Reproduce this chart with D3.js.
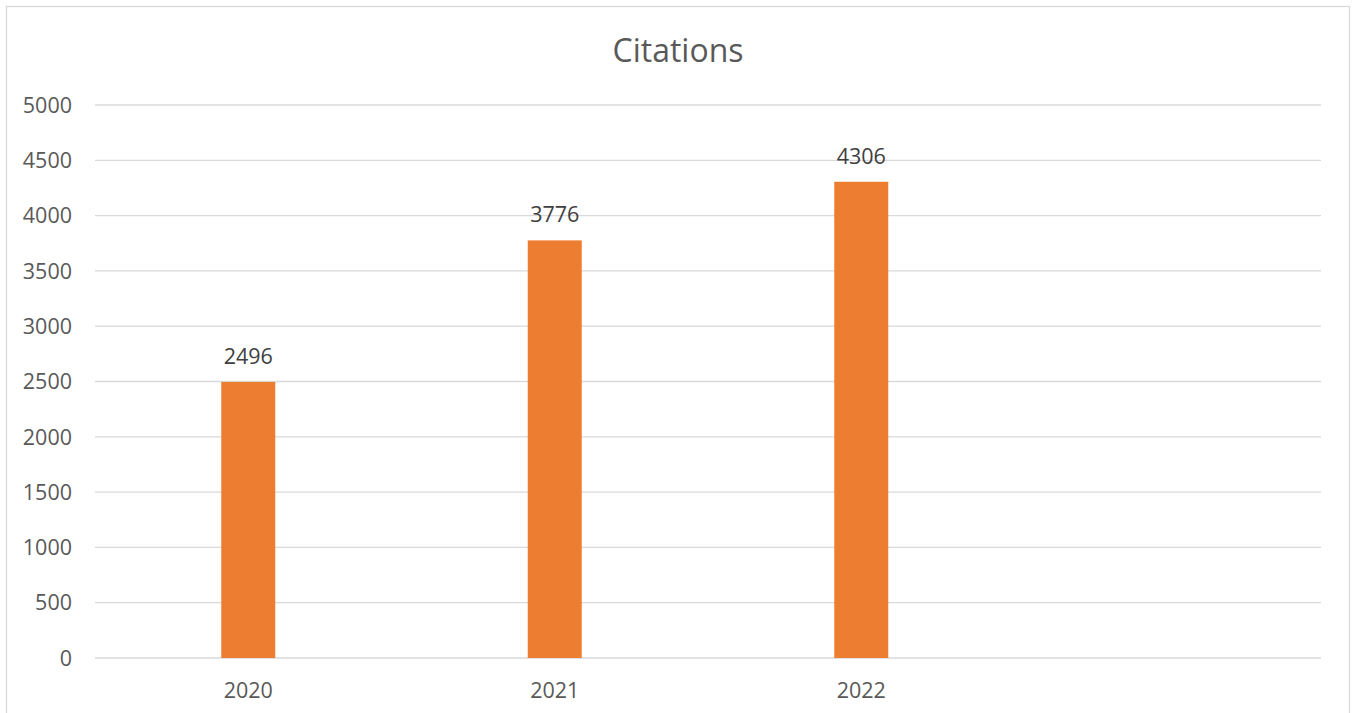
<!DOCTYPE html>
<html>
<head>
<meta charset="utf-8">
<script src="https://d3js.org/d3.v7.min.js"></script>
<style>
  body { margin: 0; background: #fff; }
  text { font-family: "Open Sans", Calibri, sans-serif; }
</style>
</head>
<body>
<svg id="chart" width="1353" height="713"></svg>
<script>
  // data
  const categories = ["2020", "2021", "2022", ""]
  const citations = [2496, 3776, 4306, null]
  const yTicks = [0, 500, 1000, 1500, 2000, 2500, 3000, 3500, 4000, 4500, 5000]

  const svg = d3.select("#chart")
  const plotLeft = 95, plotRight = 1321, plotTop = 105, plotBottom = 658

  // chart frame
  svg.append("rect")
    .attr("x", 6.5).attr("y", 6.5)
    .attr("width", 1343).attr("height", 720)
    .attr("fill", "#fff")
    .attr("stroke", "#d9d9d9")
    .attr("stroke-width", 1.3)

  const x = d3.scaleBand().domain(categories).range([plotLeft, plotRight])
  const y = d3.scaleLinear().domain([0, 5000]).range([plotBottom, plotTop])
  const barWidth = 54

  // gridlines
  svg.append("g").selectAll("line")
    .data(yTicks)
    .join("line")
    .attr("x1", plotLeft).attr("x2", plotRight)
    .attr("y1", d => y(d)).attr("y2", d => y(d))
    .attr("stroke", "#d9d9d9")
    .attr("stroke-width", 1.3)

  // y labels
  svg.append("g").selectAll("text")
    .data(yTicks)
    .join("text")
    .attr("x", 72)
    .attr("y", d => y(d))
    .attr("dy", "0.36em")
    .attr("text-anchor", "end")
    .attr("fill", "#595959")
    .style("font-size", "21.5px")
    .text(d => d)

  // x labels
  svg.append("g").selectAll("text")
    .data(categories)
    .join("text")
    .attr("x", d => x(d) + x.bandwidth() / 2)
    .attr("y", 697.5)
    .attr("text-anchor", "middle")
    .attr("fill", "#595959")
    .style("font-size", "21.5px")
    .text(d => d)

  const rows = categories.map((c, i) => ({ c, v: citations[i] })).filter(d => d.v != null)

  svg.append("g").selectAll("rect")
    .data(rows)
    .join("rect")
    .attr("x", d => x(d.c) + x.bandwidth() / 2 - barWidth / 2)
    .attr("width", barWidth)
    .attr("y", d => y(d.v))
    .attr("height", d => y(0) - y(d.v))
    .attr("fill", "#ed7d31")

  // value labels
  svg.append("g").selectAll("text")
    .data(rows)
    .join("text")
    .attr("x", d => x(d.c) + x.bandwidth() / 2)
    .attr("y", d => y(d.v) - 18)
    .attr("text-anchor", "middle")
    .attr("fill", "#404040")
    .style("font-size", "21.5px")
    .text(d => d.v)

  svg.append("text")
    .attr("x", 678)
    .attr("y", 62)
    .attr("text-anchor", "middle")
    .attr("fill", "#595959")
    .style("font-size", "32px")
    .text("Citations")
</script>
</body>
</html>
